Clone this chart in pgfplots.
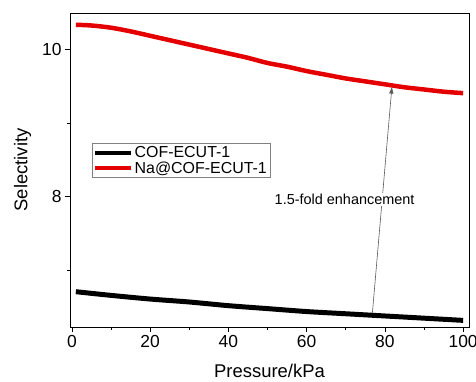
\documentclass[border=0pt]{standalone}
\usepackage{pgfplots}
\pgfplotsset{compat=1.18}
\usetikzlibrary{arrows.meta}
\usepackage{fontspec}
\setmainfont{Liberation Sans}
\begin{document}
\begin{tikzpicture}
\begin{axis}[
  at={(0,0)}, anchor=south west,
  scale only axis, width=399bp, height=314bp,
  xmin=-0.5, xmax=101.5, ymin=6.23, ymax=10.5,
  xtick={0,20,40,60,80,100}, minor xtick={10,30,50,70,90},
  ytick={8,10}, minor ytick={7,9},
  tick align=outside, tick pos=left,
  major tick length=5bp, minor tick length=3bp,
  axis line style={line width=0.9pt},
  every tick/.style={line width=0.8pt,black},
  tick label style={font=\fontsize{17.5}{19}\selectfont},
  /pgf/number format/assume math mode=true,
  xlabel={Pressure/kPa}, ylabel={Selectivity},
  label style={font=\fontsize{18.5}{20}\selectfont},
  xlabel style={yshift=-9bp},
  ylabel style={yshift=4bp},
  legend style={at={(0.055,0.585)}, anchor=north west, draw=gray, line width=0.6pt,
    font=\fontsize{16}{17}\selectfont, inner sep=1pt, row sep=-1.5pt},
  legend cell align=left,
  legend image code/.code={\draw[#1, line width=4pt] (0,0) -- (1.25cm,0);},
]
\addplot[black, line width=5pt, smooth] coordinates {
(1,6.71) (10,6.66) (20,6.61) (30,6.57) (40,6.52) (50,6.48) (60,6.44) (70,6.41) (80,6.38) (90,6.35) (100,6.32)};
\addlegendentry{COF-ECUT-1}
\addplot[red!90!black, line width=4.5pt, smooth] coordinates {
(1,10.34) (5,10.33) (10,10.30) (15,10.25) (20,10.19) (25,10.13) (30,10.07) (35,10.01) (40,9.95) (45,9.89) (50,9.82) (55,9.77) (60,9.71) (65,9.66) (70,9.61) (75,9.57) (80,9.53) (85,9.49) (90,9.46) (95,9.43) (100,9.41)};
\addlegendentry{Na@COF-ECUT-1}
\draw[-{Latex[length=7bp,width=4.5bp]}, gray!70!black, line width=0.6pt] (axis cs:76.8,6.42) -- (axis cs:81.8,9.50);
\node[font=\fontsize{14.5}{16}\selectfont, fill=white, inner sep=1pt] at (axis cs:69.7,7.96) {1.5-fold enhancement};
\end{axis}
\pgfresetboundingbox
\path[use as bounding box] (-70bp,-55bp) rectangle (406bp,327bp);
\end{tikzpicture}
\end{document}
